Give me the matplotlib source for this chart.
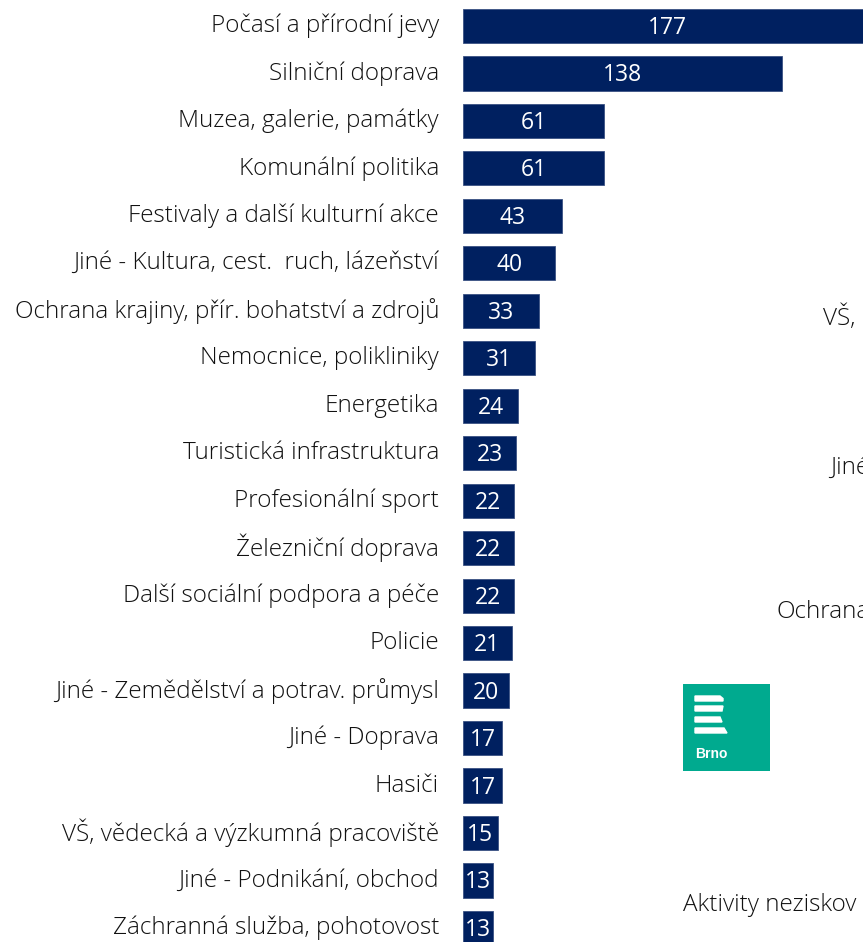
import matplotlib.pyplot as plt
from matplotlib.patches import Rectangle, Polygon

categories = [
    "Počasí a přírodní jevy",
    "Silniční doprava",
    "Muzea, galerie, památky",
    "Komunální politika",
    "Festivaly a další kulturní akce",
    "Jiné - Kultura, cest.  ruch, lázeňství",
    "Ochrana krajiny, přír. bohatství a zdrojů",
    "Nemocnice, polikliniky",
    "Energetika",
    "Turistická infrastruktura",
    "Profesionální sport",
    "Železniční doprava",
    "Další sociální podpora a péče",
    "Policie",
    "Jiné - Zemědělství a potrav. průmysl",
    "Jiné - Doprava",
    "Hasiči",
    "VŠ, vědecká a výzkumná pracoviště",
    "Jiné - Podnikání, obchod",
    "Záchranná služba, pohotovost",
]
counts = [177, 138, 61, 61, 43, 40, 33, 31, 24, 23, 22, 22, 22, 21, 20, 17, 17, 15, 13, 13]

# fragments of the neighbouring chart that show at the right edge
side_texts = ["VŠ,", "Jiné", "Ochrana", "Aktivity neziskov"]
side_pos = [(823, 318), (830, 468), (777, 612), (683, 905)]

W, H = 863, 942
NAVY = "#002060"
TEAL = "#00AA8F"
LABEL_FONT = ["Open Sans", "DejaVu Sans"]
VALUE_FONT = ["Open Sans", "DejaVu Sans"]

fig = plt.figure(figsize=(W / 100, H / 100), dpi=100)

# bars: start at x=463px, 2.31 px per unit, rows 47.47 px apart, first centre at y=26px
x0, px_per_unit = 463, 2.31
row_h, first_c = 47.47, 26
ax = fig.add_axes([x0 / W, 0, (W - x0) / W, 1])
ax.set_xlim(0, (W - x0) / px_per_unit)
ax.set_ylim((H - first_c) / row_h, -first_c / row_h)
ax.axis("off")

ys = list(range(len(categories)))
ax.barh(ys, counts, height=0.72, color=NAVY, edgecolor="#3a5283", linewidth=0.6)
for y, v, name in zip(ys, counts, categories):
    ax.annotate(str(v), xy=(v / 2, y), xytext=(0, -2), textcoords="offset pixels",
                color="white", ha="center", va="center", fontsize=16.5,
                family=VALUE_FONT)
    ax.annotate(name, xy=(0, y), xytext=(-24, 0), textcoords="offset pixels",
                ha="right", va="center", fontsize=17.5, family=LABEL_FONT,
                fontweight="light", color="#111111", annotation_clip=False)

for txt, (px, py) in zip(side_texts, side_pos):
    fig.text(px / W, 1 - py / H, txt, ha="left", va="center", fontsize=17.5,
             family=LABEL_FONT, fontweight="light", color="#111111")

# Brno logo
lx, ly, ls = 683, 684, 87
lax = fig.add_axes([lx / W, 1 - (ly + ls) / H, ls / W, ls / H])
lax.set_xlim(0, ls)
lax.set_ylim(ls, 0)
lax.axis("off")
lax.add_patch(Rectangle((0, 0), ls, ls, color=TEAL))
stripes = [
    [(12, 12), (37, 12), (40, 14.5), (40, 17), (12, 17)],
    [(12, 22), (40, 22), (39, 27), (12, 27)],
    [(12, 33), (37, 33), (39, 38), (12, 38)],
    [(12, 44), (41, 44), (44, 49), (12, 49)],
]
for pts in stripes:
    lax.add_patch(Polygon(pts, closed=True, color="white"))
lax.text(12, 70, "Brno", color="white", ha="left", va="center", fontsize=10,
         fontweight="bold", family=["Liberation Sans", "DejaVu Sans"])

fig.savefig("out.png", dpi=100)
